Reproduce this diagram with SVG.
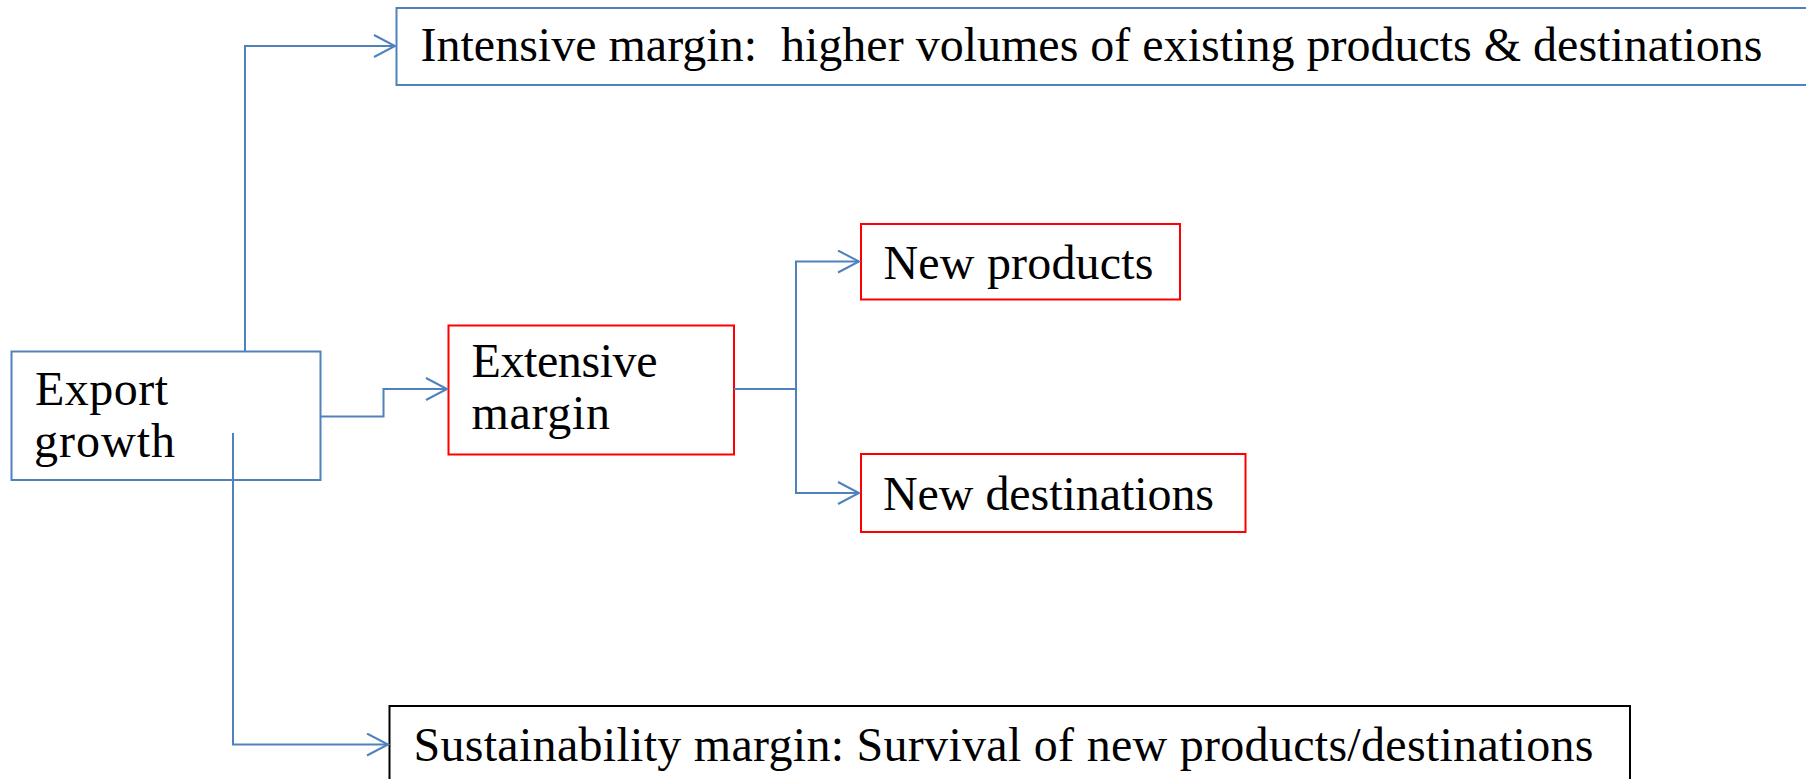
<svg xmlns="http://www.w3.org/2000/svg" width="1806" height="779" viewBox="0 0 1806 779">
  <style>
    .box { fill: #ffffff; stroke-width: 2; }
    .blue { stroke: #4F81BD; }
    .red { stroke: #FF0000; }
    .black { stroke: #000000; }
    .lbl { font-family: "Liberation Serif", "Times New Roman", serif; font-size: 48px; fill: #000000; white-space: pre; }
    .conn { fill: none; stroke: #4F81BD; stroke-width: 2; }
  </style>
  <defs>
    <marker id="open-arrow" markerUnits="userSpaceOnUse" markerWidth="26" markerHeight="28" refX="22" refY="12" orient="auto">
      <path d="M1,1 L22,12 L1,23" fill="none" stroke="#4F81BD" stroke-width="2"/>
    </marker>
  </defs>

  <rect width="1806" height="779" fill="#ffffff"/>

  <g id="node-intensive">
    <rect class="box blue" x="396.5" y="8" width="1430" height="77"/>
    <text class="lbl" x="420.5" y="61" textLength="1342" lengthAdjust="spacing" xml:space="preserve">Intensive margin:  higher volumes of existing products &amp; destinations</text>
  </g>

  <g id="node-export">
    <rect class="box blue" x="11.5" y="351.5" width="309" height="128.5"/>
    <text class="lbl" x="35" y="405" textLength="133" lengthAdjust="spacing">Export</text>
    <text class="lbl" x="34" y="456.5" textLength="141" lengthAdjust="spacing">growth</text>
  </g>

  <g id="node-extensive">
    <rect class="box red" x="448.5" y="325.5" width="285.5" height="129"/>
    <text class="lbl" x="471.5" y="376.5" textLength="186" lengthAdjust="spacing">Extensive</text>
    <text class="lbl" x="471.5" y="428.5" textLength="138.5" lengthAdjust="spacing">margin</text>
  </g>

  <g id="node-new-products">
    <rect class="box red" x="861" y="224" width="319" height="75.5"/>
    <text class="lbl" x="883.5" y="278.5" textLength="270" lengthAdjust="spacing">New products</text>
  </g>

  <g id="node-new-destinations">
    <rect class="box red" x="861" y="454" width="384.5" height="78"/>
    <text class="lbl" x="883" y="509.5" textLength="331" lengthAdjust="spacing">New destinations</text>
  </g>

  <g id="node-sustainability">
    <rect class="box black" x="389.5" y="706" width="1240.5" height="90"/>
    <text class="lbl" x="413.5" y="760.5" textLength="1180" lengthAdjust="spacing">Sustainability margin: Survival of new products/destinations</text>
  </g>

  <g id="connectors">
    <!-- Export growth to intensive margin -->
    <path class="conn" d="M245,352 V46 H395" marker-end="url(#open-arrow)"/>
    <!-- Export growth to extensive margin -->
    <path class="conn" d="M321,416.5 H383.5 V389 H447" marker-end="url(#open-arrow)"/>
    <!-- Export growth to sustainability margin, starting inside the source box -->
    <path class="conn" d="M233,433 V744.5 H388" marker-end="url(#open-arrow)"/>
    <!-- Extensive margin branches -->
    <path class="conn" d="M734,389 H796"/>
    <path class="conn" d="M796,389 V261.5 H859" marker-end="url(#open-arrow)"/>
    <path class="conn" d="M796,389 V493 H859" marker-end="url(#open-arrow)"/>
  </g>
</svg>
